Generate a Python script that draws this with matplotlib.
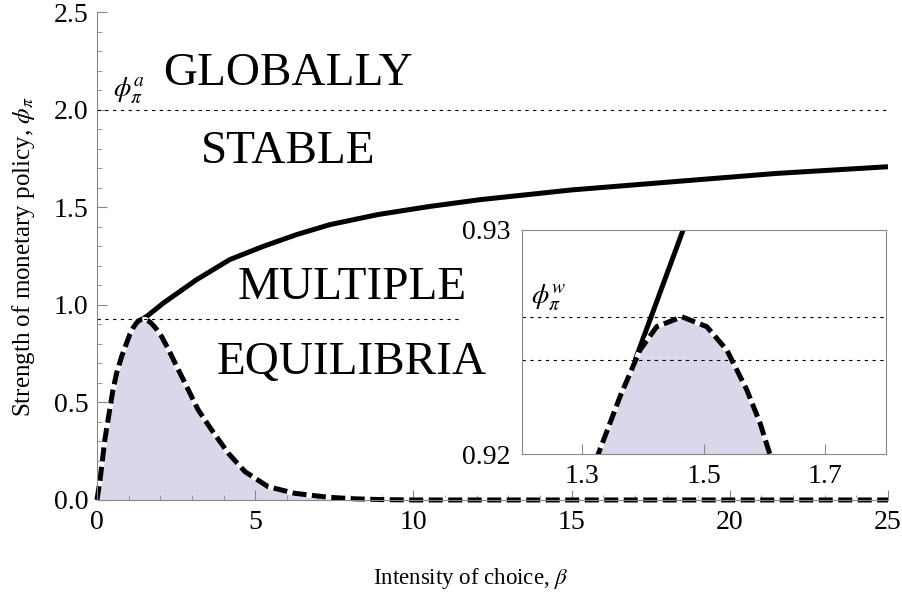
import numpy as np
import matplotlib
matplotlib.use("Agg")
import matplotlib.pyplot as plt
from matplotlib.ticker import MultipleLocator, FormatStrFormatter

plt.rcParams["font.family"] = ["Liberation Serif", "DejaVu Serif"]
plt.rcParams["mathtext.fontset"] = "stix"

# lower boundary (dashed) of the multiple-equilibria region
beta_low = [0, 0.095, 0.25, 0.5, 0.62, 0.78, 1.04, 1.15, 1.25, 1.326, 1.362, 1.395, 1.4225, 1.464,
            1.505, 1.538, 1.571, 1.593, 1.609, 1.7, 1.8, 1.9, 2.04, 2.25, 2.47, 2.78, 3.2, 3.62,
            4.15, 4.68, 5.41, 6.26, 7.31, 8.15, 9.0, 10, 25]
phi_low = [0, 0.10, 0.31, 0.56, 0.65, 0.736, 0.85, 0.885, 0.908, 0.92, 0.92257, 0.92465, 0.92569, 0.92613,
           0.92569, 0.92465, 0.92287, 0.92138, 0.92, 0.909, 0.892, 0.872, 0.839, 0.775, 0.702, 0.60, 0.462, 0.36,
           0.24, 0.145, 0.068, 0.034, 0.014, 0.006, 0.002, 0, 0]

# upper boundary (solid)
beta_up = [1.387, 1.466, 1.6, 2.10, 3.15, 4.2, 5.26, 6.31, 7.36, 8.89, 10.5, 12.1, 15, 18.43, 21.5, 25]
phi_up = [0.9242, 0.93, 0.945, 1.010, 1.13, 1.233, 1.301, 1.361, 1.412, 1.464, 1.505, 1.54, 1.59, 1.635, 1.675, 1.709]

phi_a = 2.0
phi_w = 0.92613
phi_cross = 0.9242

fill_col = "#d8d8ea"
spine_col = "#888888"
dash = (0, (2.8, 1.1))
dot = (0, (3, 4))

fig = plt.figure(figsize=(9.02, 5.95), dpi=100)
ax = fig.add_axes([0.1075, 0.1597, 0.877, 0.8193])

ax.fill_between(beta_low, 0, phi_low, color=fill_col, lw=0)
ax.plot(beta_up, phi_up, color="black", lw=3.6, solid_capstyle="butt")
ax.plot(beta_low, phi_low, color="black", lw=3.6, ls=dash, gapcolor="white", clip_on=False)

ax.plot([0, 25], [phi_a, phi_a], color="black", lw=0.8, ls=dot)
ax.plot([0, 11.5], [phi_w, phi_w], color="black", lw=0.8, ls=dot)
ax.text(0.5, 2.02, r"$\phi_\pi^a$", fontsize=20, ha="left", va="bottom")

ax.text(6.04, 2.185, "GLOBALLY", fontsize=34, ha="center", va="center")
ax.text(6.04, 1.785, "STABLE", fontsize=34, ha="center", va="center")
ax.text(8.06, 1.09, "MULTIPLE", fontsize=34, ha="center", va="center")
ax.text(8.06, 0.705, "EQUILIBRIA", fontsize=34, ha="center", va="center")

ax.set_xlim(0, 25)
ax.set_ylim(0, 2.5)
ax.xaxis.set_major_locator(MultipleLocator(5))
ax.xaxis.set_minor_locator(MultipleLocator(1))
ax.yaxis.set_major_locator(MultipleLocator(0.5))
ax.yaxis.set_minor_locator(MultipleLocator(0.1))
ax.xaxis.set_major_formatter(FormatStrFormatter("%d"))
ax.yaxis.set_major_formatter(FormatStrFormatter("%.1f"))
for s in ["top", "right"]:
    ax.spines[s].set_visible(False)
for s in ["left", "bottom"]:
    ax.spines[s].set_color(spine_col)
ax.tick_params(which="both", direction="in", colors=spine_col, labelcolor="black", labelsize=20)
ax.tick_params(which="major", length=7)
ax.tick_params(which="minor", length=3.5)
ax.tick_params(axis="x", pad=7)
ax.tick_params(axis="y", pad=6)
ax.set_xlabel(r"Intensity of choice, $\beta$", fontsize=16.5)
ax.set_ylabel(r"Strength of monetary policy, $\phi_\pi$", fontsize=18)
ax.xaxis.set_label_coords(0.473, -0.135)
ax.yaxis.set_label_coords(-0.076, 0.5)

# inset
axi = fig.add_axes([0.5784, 0.2365, 0.4036, 0.377])
axi.fill_between(beta_low, 0.9, phi_low, color=fill_col, lw=0)
axi.plot(beta_up, phi_up, color="black", lw=3.6, solid_capstyle="butt")
axi.plot(beta_low, phi_low, color="black", lw=3.6, ls=dash, gapcolor="white")
axi.axhline(phi_w, color="black", lw=0.8, ls=dot)
axi.axhline(phi_cross, color="black", lw=0.8, ls=dot)
axi.text(1.215, 0.92632, r"$\phi_\pi^w$", fontsize=20, ha="left", va="bottom")
axi.set_xlim(1.2, 1.8)
axi.set_ylim(0.92, 0.93)
axi.set_xticks([1.3, 1.5, 1.7])
axi.set_yticks([0.92, 0.93])
axi.yaxis.set_major_formatter(FormatStrFormatter("%.2f"))
for s in axi.spines.values():
    s.set_color(spine_col)
axi.tick_params(axis="x", direction="in", length=7, colors=spine_col, labelcolor="black", labelsize=20, pad=7)
axi.tick_params(axis="y", length=0, labelcolor="black", labelsize=20, pad=8)

fig.savefig("out.png", dpi=100)
